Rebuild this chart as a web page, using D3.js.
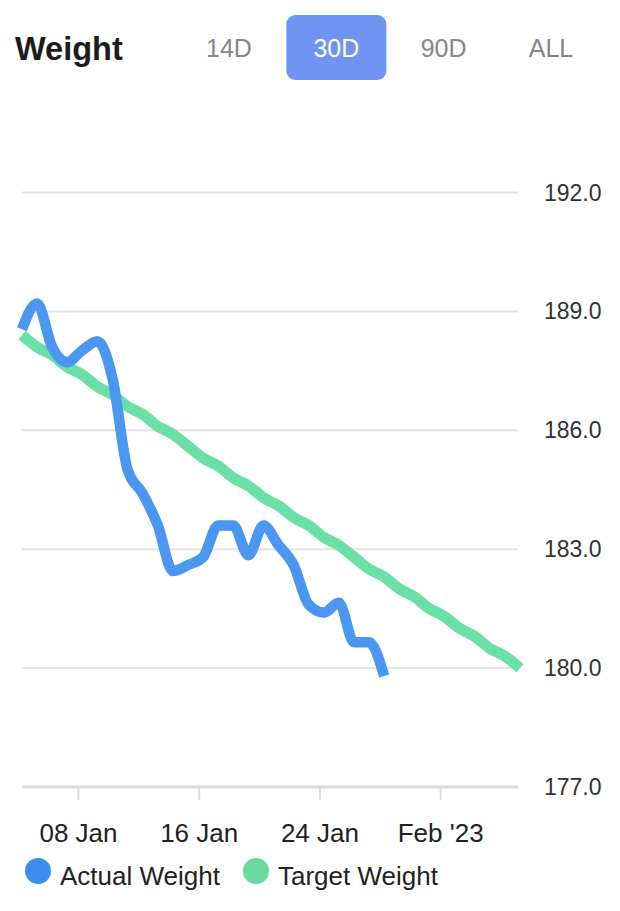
<!DOCTYPE html>
<html>
<head>
<meta charset="utf-8">
<script src="https://cdn.jsdelivr.net/npm/d3@7"></script>
<style>
  html, body { margin: 0; padding: 0; background: #fff; }
  svg { display: block; font-family: "Liberation Sans", Arial, Helvetica, sans-serif; }
</style>
</head>
<body>
<script>
'use strict';

// range buttons in the header
const rangeButtons = ["14D", "30D", "90D", "ALL"];
const activeRange = "30D";

// actual weight, one reading a day from 04 Jan
const actualStart = "2023-01-04T07:00";
const actualWeight = [188.55, 189.2, 188.1, 187.72, 188.02, 188.25, 187.3, 185.0, 184.4, 183.6,
  182.45, 182.6, 182.8, 183.6, 183.6, 182.85, 183.6, 183.1, 182.6, 181.6,
  181.4, 181.65, 180.65, 180.65, 179.8];

// target weight plan, one value a day from 04 Jan
const targetStart = "2023-01-04T07:00";
const targetWeight = [188.4, 188.1, 187.9, 187.6, 187.4, 187.1, 186.9, 186.6, 186.4, 186.1,
  185.9, 185.6, 185.3, 185.1, 184.8, 184.6, 184.3, 184.1, 183.8, 183.6,
  183.3, 183.1, 182.8, 182.5, 182.3, 182.0, 181.8, 181.5, 181.3, 181.0,
  180.8, 180.5, 180.3, 180.0];

const yTicks = [177, 180, 183, 186, 189, 192];
const xTickDates = ["2023-01-08", "2023-01-16", "2023-01-24", "2023-02-01"];
const xTickLabels = ["08 Jan", "16 Jan", "24 Jan", "Feb '23"];

const seriesNames = ["Actual Weight", "Target Weight"];
const colors = { "Actual Weight": "#4a96f0", "Target Weight": "#6be0a6" };
const legendColors = { "Actual Weight": "#3d8cf0", "Target Weight": "#67d9a1" };

const width = 620, height = 911;

function dayRows(start, values) {
  const t0 = new Date(start);
  return values.map((v, i) => ({ date: d3.timeDay.offset(t0, i), value: v }));
}

const actualRows = dayRows(actualStart, actualWeight);
const targetRows = dayRows(targetStart, targetWeight);

const svg = d3.select("body").append("svg")
  .attr("width", width)
  .attr("height", height);

svg.append("rect").attr("width", width).attr("height", height).attr("fill", "#fff");

// header
svg.append("text")
  .attr("x", 15).attr("y", 60)
  .attr("font-size", 32.5).attr("font-weight", "bold")
  .attr("fill", "#1c1c1e")
  .text("Weight");

const btnCenters = d3.scalePoint().domain(rangeButtons).range([229, 551]);
svg.append("rect")
  .attr("x", btnCenters(activeRange) - 50).attr("y", 15)
  .attr("width", 100).attr("height", 65)
  .attr("rx", 9)
  .attr("fill", "#7094f3");
svg.selectAll(".btn")
  .data(rangeButtons)
  .enter().append("text")
  .attr("x", d => btnCenters(d))
  .attr("y", 57)
  .attr("text-anchor", "middle")
  .attr("font-size", 25)
  .attr("fill", d => d === activeRange ? "#fff" : "#86868b")
  .text(d => d);

// scales
const x = d3.scaleTime()
  .domain([new Date(actualStart), new Date(targetRows[targetRows.length - 1].date)])
  .range([22, 520]);
const y = d3.scaleLinear()
  .domain([177, 192])
  .range([787, 192.5]);

// gridlines
svg.append("g")
  .selectAll("line")
  .data(yTicks)
  .enter().append("line")
  .attr("x1", 22).attr("x2", 518)
  .attr("y1", d => y(d)).attr("y2", d => y(d))
  .attr("stroke", d => d === 177 ? "#dcdcdc" : "#e4e4e4")
  .attr("stroke-width", d => d === 177 ? 3 : 2);

// y labels on the right
svg.append("g")
  .selectAll("text")
  .data(yTicks)
  .enter().append("text")
  .attr("x", 544)
  .attr("y", d => y(d) + 8)
  .attr("font-size", 23)
  .attr("fill", "#333")
  .text(d => d.toFixed(1));

// x axis ticks and labels
const xTicks = xTickDates.map(s => new Date(s + "T00:00"));
const xAxis = d3.axisBottom(x)
  .tickValues(xTicks)
  .tickFormat((d, i) => xTickLabels[i])
  .tickSize(13)
  .tickPadding(24);
const gx = svg.append("g")
  .attr("transform", "translate(0," + y(177) + ")")
  .call(xAxis);
gx.select(".domain").remove();
gx.selectAll(".tick line").attr("stroke", "#dcdcdc").attr("stroke-width", 2);
gx.selectAll(".tick text")
  .attr("font-size", 26)
  .attr("font-family", "Liberation Sans, Arial, sans-serif")
  .attr("fill", "#222");

// lines
const line = d3.line()
  .x(d => x(d.date))
  .y(d => y(d.value))
  .curve(d3.curveMonotoneX);

svg.append("path")
  .datum(targetRows)
  .attr("d", line)
  .attr("fill", "none")
  .attr("stroke", colors["Target Weight"])
  .attr("stroke-width", 11)
  .attr("stroke-linejoin", "round");

svg.append("path")
  .datum(actualRows)
  .attr("d", line)
  .attr("fill", "none")
  .attr("stroke", colors["Actual Weight"])
  .attr("stroke-width", 10.5)
  .attr("stroke-linejoin", "round");

// legend
const legendX = [38, 256];
const legend = svg.append("g").selectAll("g")
  .data(seriesNames)
  .enter().append("g")
  .attr("transform", (d, i) => "translate(" + legendX[i] + ",871)");
legend.append("circle")
  .attr("r", 13)
  .attr("fill", d => legendColors[d]);
legend.append("text")
  .attr("x", 22)
  .attr("y", 14)
  .attr("font-size", 26)
  .attr("fill", "#222")
  .text(d => d);
</script>
</body>
</html>
